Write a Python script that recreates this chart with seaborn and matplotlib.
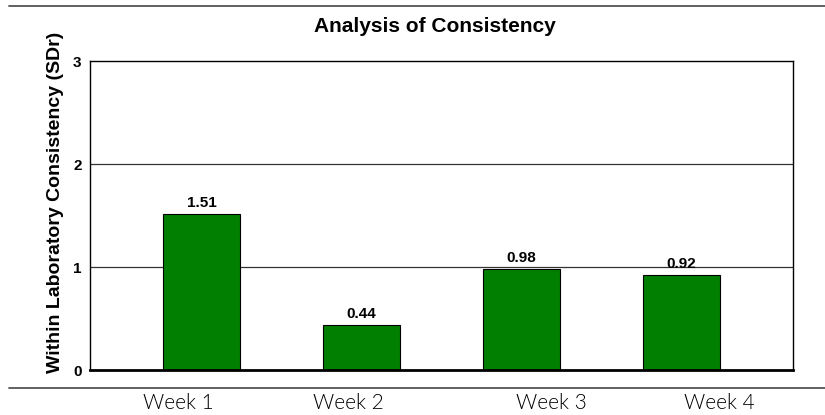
import matplotlib
matplotlib.use("Agg")
import matplotlib.pyplot as plt
import matplotlib.transforms as mtransforms
from matplotlib.lines import Line2D
import seaborn as sns
import pandas as pd

weeks = ["Week 1", "Week 2", "Week 3", "Week 4"]
sdr = [1.51, 0.44, 0.98, 0.92]
# week labels in the source are not centred under the bars
label_shift = [-0.147, -0.084, 0.184, 0.234]

df = pd.DataFrame({"Week": weeks, "SDr": sdr})

sns.set_style("white")
plt.rcParams["font.family"] = ["Liberation Sans", "DejaVu Sans"]
plt.rcParams["text.color"] = "black"
plt.rcParams["ytick.color"] = "black"
plt.rcParams["axes.labelcolor"] = "black"

fig = plt.figure(figsize=(8.25, 4.15), dpi=100)
ax = fig.add_axes([0.1091, 0.1084, 0.8521, 0.7446])

sns.barplot(
    data=df,
    x="Week",
    y="SDr",
    color="#007f00",
    saturation=1,
    edgecolor="black",
    linewidth=0.8,
    width=0.48,
    ax=ax
)

ax.set_xlim(-0.697, 3.697)
ax.set_ylim(0, 3)
ax.set_yticks([0, 1, 2, 3])
ax.set_yticklabels(["0", "1", "2", "3"], fontweight="bold", fontsize=11, color="black")
ax.set_xticks([])
ax.set_xlabel("")
ax.set_ylabel("")
ax.tick_params(axis="y", length=0, pad=6)

for y in [1, 2]:
    ax.axhline(y, color="#333333", linewidth=0.9, zorder=0)

for s in ["left", "top", "right"]:
    ax.spines[s].set_color("black")
    ax.spines[s].set_linewidth(1.0)
ax.spines["bottom"].set_color("black")
ax.spines["bottom"].set_linewidth(2.0)

ax.bar_label(ax.containers[0], fmt="%.2f", padding=3,
             fontweight="bold", fontsize=11, color="black")

# week labels below the frame line
trans = mtransforms.blended_transform_factory(ax.transData, ax.transAxes)
for i, (w, d) in enumerate(zip(weeks, label_shift)):
    ax.text(i + d, -0.107, w, transform=trans, ha="center", va="center",
            fontsize=15, family=["Lato", "DejaVu Sans"], fontweight=300,
            color="black")

fig.text(0.527, 0.935, "Analysis of Consistency", ha="center", va="center",
         fontsize=15, fontweight="bold", color="black")
fig.text(0.0667, 0.513, "Within Laboratory Consistency (SDr)", rotation=90,
         ha="center", va="center", fontsize=14, fontweight="bold", color="black")

fig.add_artist(Line2D([0.011, 1.0], [0.9855, 0.9855], color="#555555", linewidth=1.3))
fig.add_artist(Line2D([0.011, 1.0], [0.065, 0.065], color="#555555", linewidth=1.3))

fig.savefig("out.png", dpi=100)
